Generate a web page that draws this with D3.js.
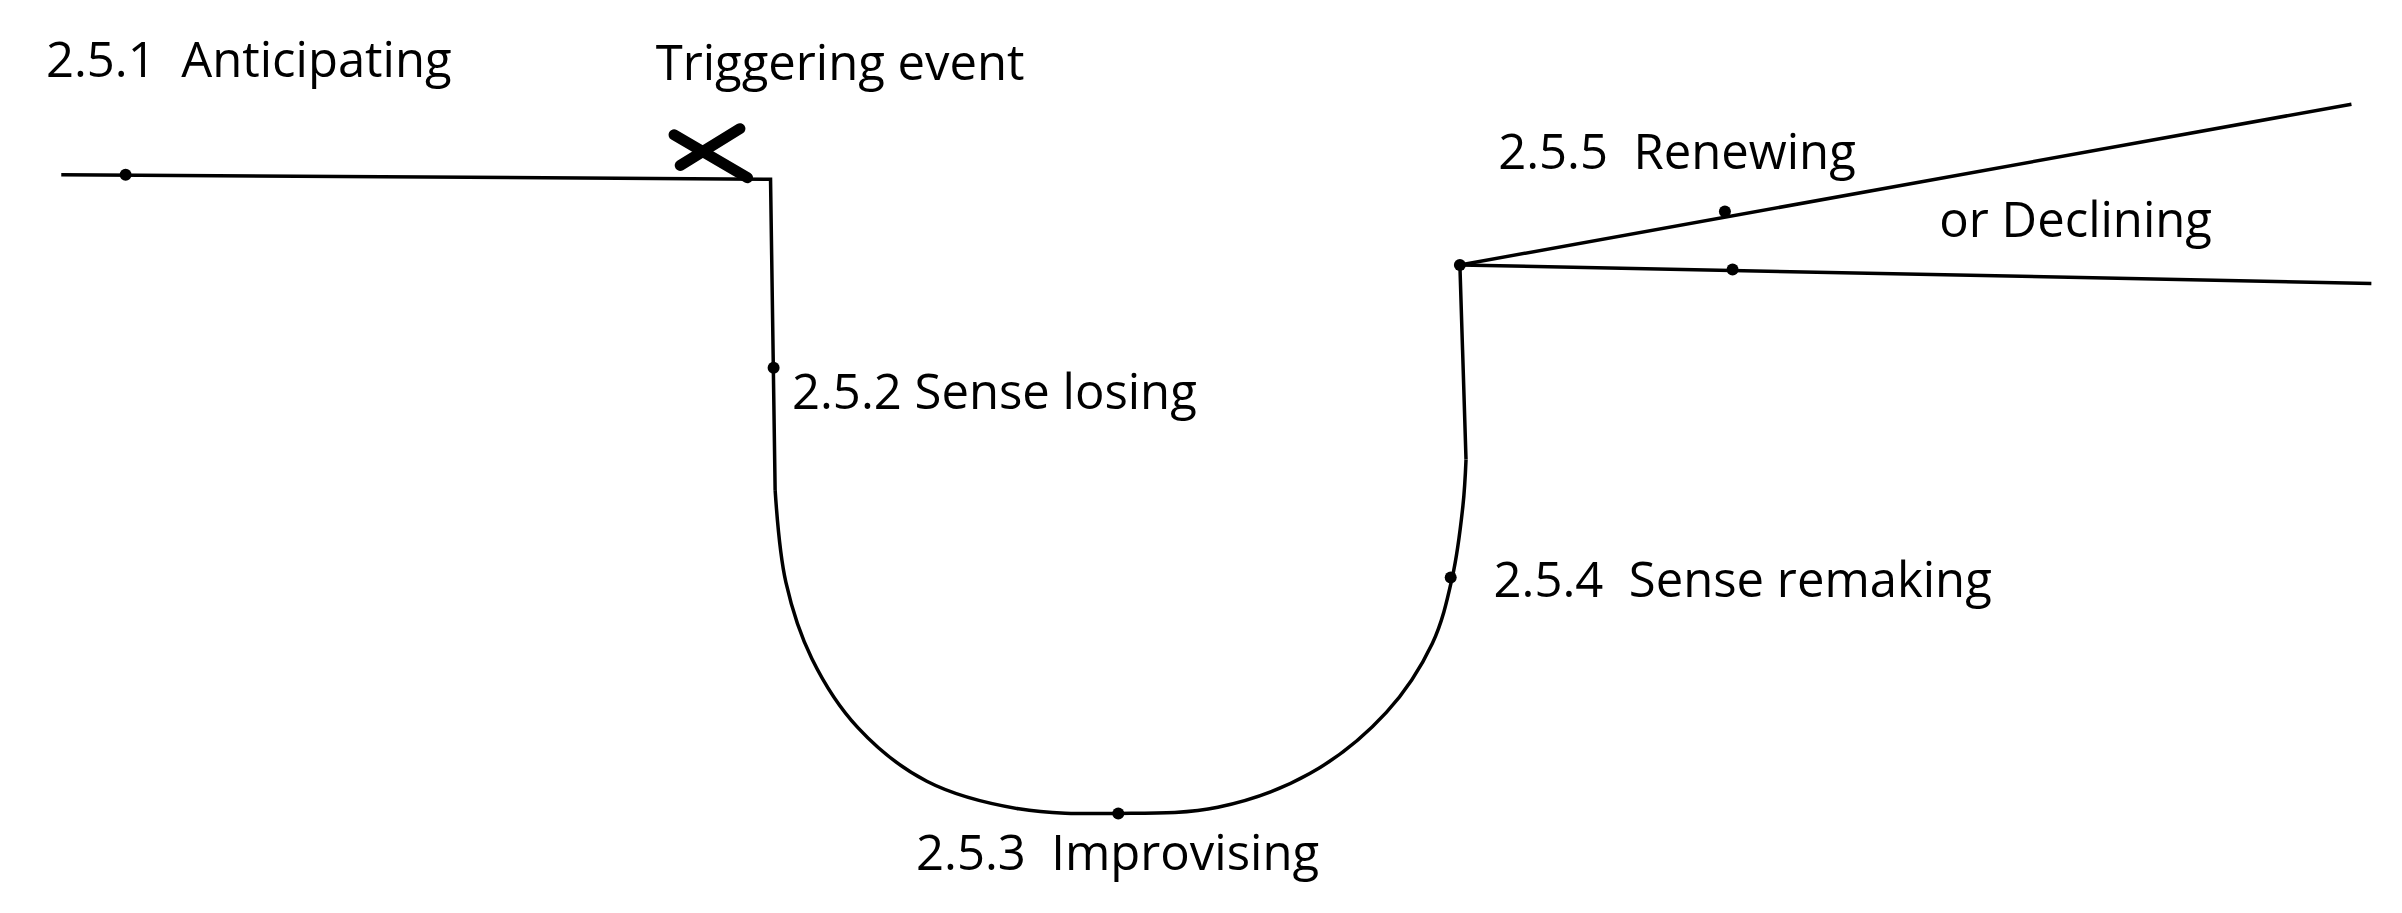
<!DOCTYPE html>
<html><head><meta charset="utf-8">
<script src="https://cdn.jsdelivr.net/npm/d3@7"></script>
<style>body{margin:0;background:#fff}text{font-family:"Open Sans",sans-serif;fill:#000}</style>
</head><body><svg id="chart"></svg>
<script>
var width = 2402, height = 913;

// path through the phases, in picture units (1568 x 596)
var leadIn = [[40,114],[503,117],[506,320]];
var trough = [[506,320],[513,380],[530,430],[560,475],[605,510],[665,528],[730,531],[795,527],[855,505],[905,465],[935,420],[948,377],[955,330],[957,300]];
var riseOut = [[957,300],[953,173]];
var renewing = [[953,173],[1535,68]];
var declining = [[953,173],[1548,185]];
var phaseDots = [[82,114],[505,240],[730,531],[947,377],[953,173],[1126,138],[1131,176]];
var labels = [
  {text:"2.5.1\u00a0 Anticipating", x:30, y:50},
  {text:"Triggering event", x:428, y:52},
  {text:"2.5.2 Sense losing", x:517, y:267},
  {text:"2.5.3\u00a0 Improvising", x:598, y:568},
  {text:"2.5.4\u00a0 Sense remaking", x:975, y:390},
  {text:"2.5.5\u00a0 Renewing", x:978, y:110},
  {text:"or Declining", x:1266, y:155}
];
var cross = [[[440,88],[488,116]],[[444,108],[483,84]]];

var x = d3.scaleLinear().domain([0,1568]).range([0,width]);
var y = d3.scaleLinear().domain([0,596]).range([0,height]);

var svg = d3.select("#chart").attr("width",width).attr("height",height);

var straight = d3.line().x(function(d){return x(d[0]);}).y(function(d){return y(d[1]);});
var smooth = d3.line().x(function(d){return x(d[0]);}).y(function(d){return y(d[1]);}).curve(d3.curveCatmullRom);

[leadIn, riseOut, renewing, declining].forEach(function(p){
  svg.append("path").attr("d",straight(p)).attr("fill","none").attr("stroke","#000").attr("stroke-width",3.5);
});
svg.append("path").attr("d",smooth(trough)).attr("fill","none").attr("stroke","#000").attr("stroke-width",3.5);

cross.forEach(function(p){
  svg.append("path").attr("d",straight(p)).attr("stroke","#000").attr("stroke-width",11).attr("stroke-linecap","round");
});

svg.selectAll("circle").data(phaseDots).enter().append("circle")
  .attr("cx",function(d){return x(d[0]);}).attr("cy",function(d){return y(d[1]);})
  .attr("r",6).attr("fill","#000");

svg.selectAll("text.lbl").data(labels).enter().append("text").attr("class","lbl")
  .attr("x",function(d){return x(d.x);}).attr("y",function(d){return y(d.y);})
  .style("font-size","49px").style("font-weight","500").text(function(d){return d.text;});
</script></body></html>
